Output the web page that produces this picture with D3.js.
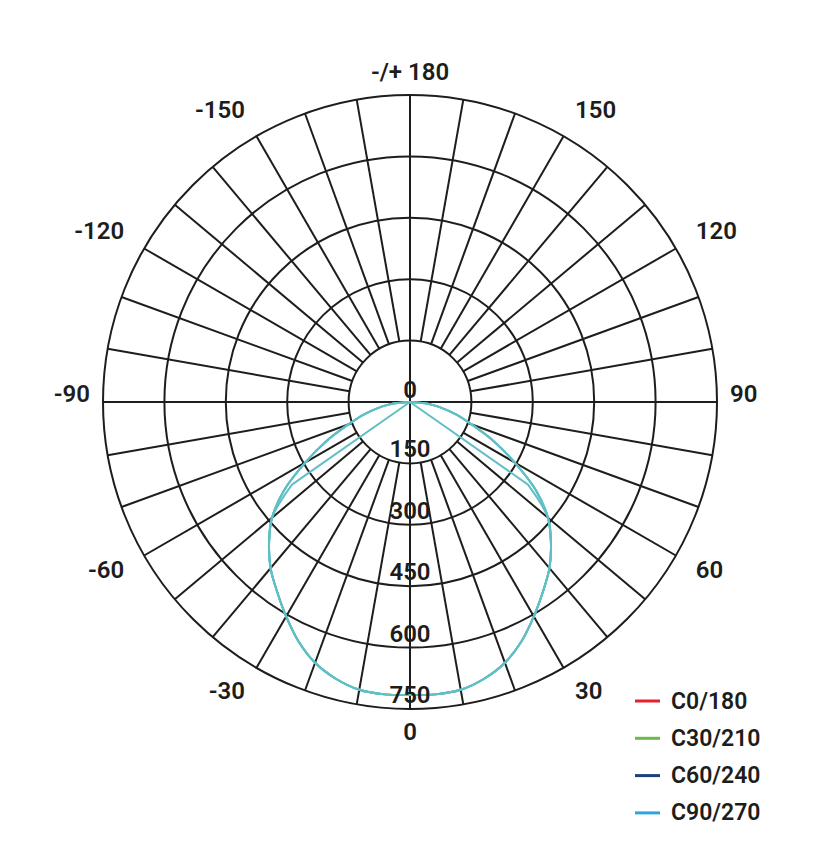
<!DOCTYPE html>
<html>
<head>
<meta charset="utf-8">
<script src="https://cdn.jsdelivr.net/npm/d3@7"></script>
<style>
  html, body { margin: 0; padding: 0; background: #ffffff; }
  svg { display: block; }
  text { font-family: Roboto, "Noto Sans", sans-serif; font-weight: 600; fill: #1d1d1b; }
</style>
</head>
<body>
<svg id="chart" width="818" height="849"></svg>
<script>
// ---- data ----
const gammaDeg = [0, 5, 10, 15, 20, 25, 30, 35, 40, 45, 50, 55, 60, 65, 70, 75, 80, 85, 90];
const seriesNames = ["C0/180", "C30/210", "C60/240", "C90/270"];
const seriesColors = ["#e2232e", "#6ab94a", "#1c3f7c", "#2aa6df"];
const C0_180   = [716, 717, 714, 700, 678, 645, 605, 566, 530, 487, 440, 375, 295, 225, 160, 115, 75, 37, 0];
const C30_210  = [716, 717, 714, 700, 678, 645, 605, 566, 530, 487, 440, 352, 0, 0, 0, 0, 0, 0, 0];
const C60_240  = [716, 717, 714, 700, 678, 645, 605, 566, 530, 487, 440, 375, 295, 225, 160, 115, 75, 37, 0];
const C90_270  = [716, 717, 714, 700, 678, 645, 605, 566, 530, 487, 440, 375, 295, 225, 160, 115, 75, 37, 0];
const ringValues = [0, 150, 300, 450, 600, 750];
const angleTicks = [0, 30, 60, 90, 120, 150, 180, -150, -120, -90, -60, -30];
const angleTickLabels = ["0", "30", "60", "90", "120", "150", "-/+ 180", "-150", "-120", "-90", "-60", "-30"];

// ---- layout ----
const cx = 410, cy = 402, R = 307;
const curveColor = "#5fbfc5";
const gridColor = "#1d1d1b";

const svg = d3.select("#chart");
const g = svg.append("g").attr("transform", `translate(${cx},${cy})`);
const r = d3.scaleLinear().domain([0, 750]).range([0, R]);
const toRad = d => d * Math.PI / 180;
// gamma 0 points down, positive gamma to the right
const ang = gdeg => Math.PI - toRad(gdeg);

// rings
g.append("g").selectAll("circle")
  .data(ringValues.filter(v => v > 0))
  .join("circle")
  .attr("r", d => r(d))
  .attr("fill", "none")
  .attr("stroke", gridColor)
  .attr("stroke-width", 2);

// spokes every 10 degrees
const spokes = d3.range(0, 360, 10);
g.append("g").selectAll("line")
  .data(spokes)
  .join("line")
  .attr("x1", d => (d % 90 === 0 ? 0 : r(150)) * Math.sin(toRad(d)))
  .attr("y1", d => -(d % 90 === 0 ? 0 : r(150)) * Math.cos(toRad(d)))
  .attr("x2", d => r(750) * Math.sin(toRad(d)))
  .attr("y2", d => -r(750) * Math.cos(toRad(d)))
  .attr("stroke", gridColor)
  .attr("stroke-width", 2);

// series curves (mirrored for negative gamma)
const allSeries = [C0_180, C30_210, C60_240, C90_270];
const fullGamma = gammaDeg.slice().reverse().map(d => -d).concat(gammaDeg.slice(1));
const smooth = d3.lineRadial()
  .angle(p => ang(p[0]))
  .radius(p => r(p[1]))
  .curve(d3.curveCatmullRom.alpha(0.5));
allSeries.forEach((vals, i) => {
  const fullVals = vals.slice().reverse().concat(vals.slice(1));
  const pts = fullGamma.map((gd, k) => [gd, fullVals[k]]);
  const lit = pts.filter(p => p[1] > 0);
  // smooth through the lit points, straight back to the centre where intensity is 0
  const d = "M0,0" + smooth(lit).replace(/^M/, "L") + "L0,0";
  g.append("path")
    .attr("d", d)
    .attr("fill", "none")
    .attr("stroke", curveColor)
    .attr("stroke-width", 2)
    .attr("stroke-linejoin", "round");
});

// ring labels
g.append("g").selectAll("text")
  .data(ringValues)
  .join("text")
  .attr("x", 0)
  .attr("y", d => r(d) - (d === 0 ? 12 : 14))
  .attr("text-anchor", "middle")
  .attr("dominant-baseline", "central")
  .attr("font-size", 24)
  .text(d => d);

// angle labels
const labR = d => (Math.abs(d) === 90 ? 320 : 330);
g.append("g").selectAll("text")
  .data(angleTicks)
  .join("text")
  .attr("x", d => labR(d) * Math.sin(ang(d)))
  .attr("y", d => {
    const base = -labR(d) * Math.cos(ang(d));
    const a = Math.abs(d);
    if (a === 90) return base - 8;
    if (a > 90 && a < 180) return base - 6;
    if (a > 0 && a < 90) return base + 3;
    return base;
  })
  .attr("text-anchor", d => (d === 0 || Math.abs(d) === 180) ? "middle" : (d > 0 ? "start" : "end"))
  .attr("dominant-baseline", "central")
  .attr("font-size", 24)
  .text((d, i) => angleTickLabels[i]);

// legend
const lg = svg.append("g").attr("transform", "translate(635,701)");
const item = lg.selectAll("g").data(seriesNames).join("g")
  .attr("transform", (d, i) => `translate(0,${i * 37.3})`);
item.append("line")
  .attr("x1", 0).attr("x2", 25).attr("y1", 0).attr("y2", 0)
  .attr("stroke", (d, i) => seriesColors[i])
  .attr("stroke-width", 3);
item.append("text")
  .attr("x", 36).attr("y", 0)
  .attr("dominant-baseline", "central")
  .attr("font-size", 23)
  .text(d => d);
</script>
</body>
</html>
